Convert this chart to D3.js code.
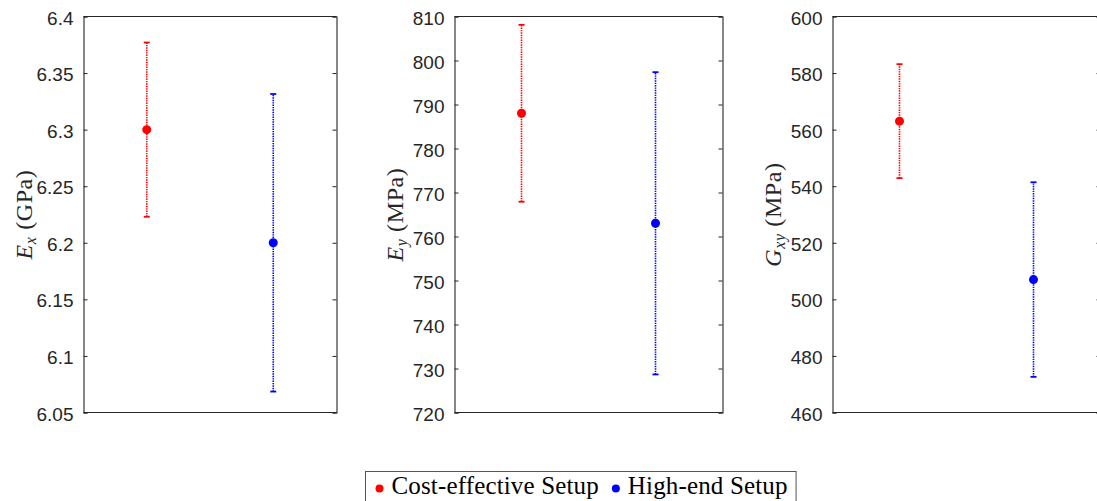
<!DOCTYPE html>
<html>
<head>
<meta charset="utf-8">
<script src="https://cdn.jsdelivr.net/npm/d3@7"></script>
<style>
  html, body { margin: 0; padding: 0; background: #fff; }
  svg { display: block; }
</style>
</head>
<body>
<svg id="chart" width="1097" height="501"></svg>
<script>
// Two measurement setups compared on three elastic constants (mean ± spread)
const setups = ["Cost-effective Setup", "High-end Setup"];
const setupColors = ["#ff0000", "#0000ff"];

// E_x in GPa
const exMean = [6.3, 6.2];
const exErr = [0.077, 0.1315];
const exTicks = [6.05, 6.1, 6.15, 6.2, 6.25, 6.3, 6.35, 6.4];

// E_y in MPa
const eyMean = [788, 763];
const eyErr = [20.1, 34.35];
const eyTicks = [720, 730, 740, 750, 760, 770, 780, 790, 800, 810];

// G_xy in MPa
const gxyMean = [563, 507];
const gxyErr = [20.15, 34.4];
const gxyTicks = [460, 480, 500, 520, 540, 560, 580, 600];

const panels = [
  { sym: "E", sub: "x", unit: "GPa", mean: exMean, err: exErr, ticks: exTicks,
    left: 83.5, width: 253 },
  { sym: "E", sub: "y", unit: "MPa", mean: eyMean, err: eyErr, ticks: eyTicks,
    left: 454.5, width: 268 },
  { sym: "G", sub: "xy", unit: "MPa", mean: gxyMean, err: gxyErr, ticks: gxyTicks,
    left: 832.5, width: 268 }
];

const plotTop = 16.5, plotBottom = 412.5;
const axisColor = "#262626";
const serif = "'Liberation Serif', 'Times New Roman', serif";
const svg = d3.select("#chart");

panels.forEach(p => {
  const g = svg.append("g");
  const x = d3.scaleLinear().domain([0.5, 2.5]).range([p.left, p.left + p.width]);
  const y = d3.scaleLinear()
    .domain([p.ticks[0], p.ticks[p.ticks.length - 1]])
    .range([plotBottom, plotTop]);

  // left axis with inward ticks
  const yl = d3.axisLeft(y).tickValues(p.ticks).tickSize(-4).tickPadding(10)
    .tickFormat(d => String(+d.toFixed(4)));
  const gl = g.append("g").attr("transform", `translate(${p.left},0)`).call(yl);
  gl.select(".domain").attr("stroke", axisColor).attr("stroke-width", 1.1);
  gl.selectAll(".tick line").attr("stroke", axisColor).attr("stroke-width", 1);
  gl.selectAll(".tick text")
    .attr("fill", axisColor)
    .attr("font-family", "'Liberation Sans', Arial, Helvetica, sans-serif")
    .attr("font-size", 19)
    .attr("dy", "0.4em");

  // right axis, ticks only
  const yr = d3.axisRight(y).tickValues(p.ticks).tickSize(-4).tickFormat("");
  const gr = g.append("g").attr("transform", `translate(${p.left + p.width},0)`).call(yr);
  gr.select(".domain").attr("stroke", axisColor).attr("stroke-width", 1.1);
  gr.selectAll(".tick line").attr("stroke", axisColor).attr("stroke-width", 1);

  // top and bottom edges of the box
  [plotTop, plotBottom].forEach(yy => {
    g.append("line")
      .attr("x1", p.left).attr("x2", p.left + p.width)
      .attr("y1", yy).attr("y2", yy)
      .attr("stroke", axisColor).attr("stroke-width", 1.1);
  });

  // y-axis label: italic symbol with subscript, upright unit
  const midY = (plotTop + plotBottom) / 2;
  const lab = g.append("text")
    .attr("transform", `translate(${p.left - 59},${midY}) rotate(-90)`)
    .attr("text-anchor", "middle")
    .attr("font-family", serif)
    .attr("font-size", 24)
    .attr("letter-spacing", 0.6)
    .attr("fill", axisColor)
    .attr("dy", "0.3em");
  lab.append("tspan").attr("font-style", "italic").text(p.sym);
  lab.append("tspan").attr("font-style", "italic").attr("font-size", 16)
    .attr("dy", 4).text(p.sub);
  lab.append("tspan").attr("dy", -4).text(" (" + p.unit + ")");

  // error bars and markers
  const rows = p.mean.map((m, i) => ({ i, m, e: p.err[i] }));
  const bars = g.selectAll(".eb").data(rows).enter().append("g");
  bars.append("line")
    .attr("x1", d => x(d.i + 1)).attr("x2", d => x(d.i + 1))
    .attr("y1", d => y(d.m - d.e)).attr("y2", d => y(d.m + d.e))
    .attr("stroke", d => setupColors[d.i])
    .attr("stroke-width", 1.6)
    .attr("stroke-dasharray", "1.4,1");
  [-1, 1].forEach(s => {
    bars.append("line")
      .attr("x1", d => x(d.i + 1) - 3).attr("x2", d => x(d.i + 1) + 3)
      .attr("y1", d => y(d.m + s * d.e)).attr("y2", d => y(d.m + s * d.e))
      .attr("stroke", d => setupColors[d.i])
      .attr("stroke-width", 1.8);
  });
  bars.append("circle")
    .attr("cx", d => x(d.i + 1)).attr("cy", d => y(d.m))
    .attr("r", 4.5)
    .attr("fill", d => setupColors[d.i]);
});

// legend below the panels
const leg = svg.append("g");
let cx = 379.5;
setups.forEach((name, i) => {
  leg.append("circle").attr("cx", cx).attr("cy", 488.5).attr("r", 4)
    .attr("fill", setupColors[i]);
  const t = leg.append("text")
    .attr("x", cx + 12).attr("y", 494)
    .attr("font-family", serif)
    .attr("font-size", 25)
    .attr("letter-spacing", 0.15)
    .attr("fill", "#000")
    .text(name);
  const w = t.node().getComputedTextLength();
  cx = cx + 12 + w + 17;
});
const legRight = cx - 17 + 8.5;
leg.insert("rect", ":first-child")
  .attr("x", 365.5).attr("y", 471.5)
  .attr("width", legRight - 365.5).attr("height", 40)
  .attr("fill", "#fff")
  .attr("stroke", "#555").attr("stroke-width", 1);
</script>
</body>
</html>
